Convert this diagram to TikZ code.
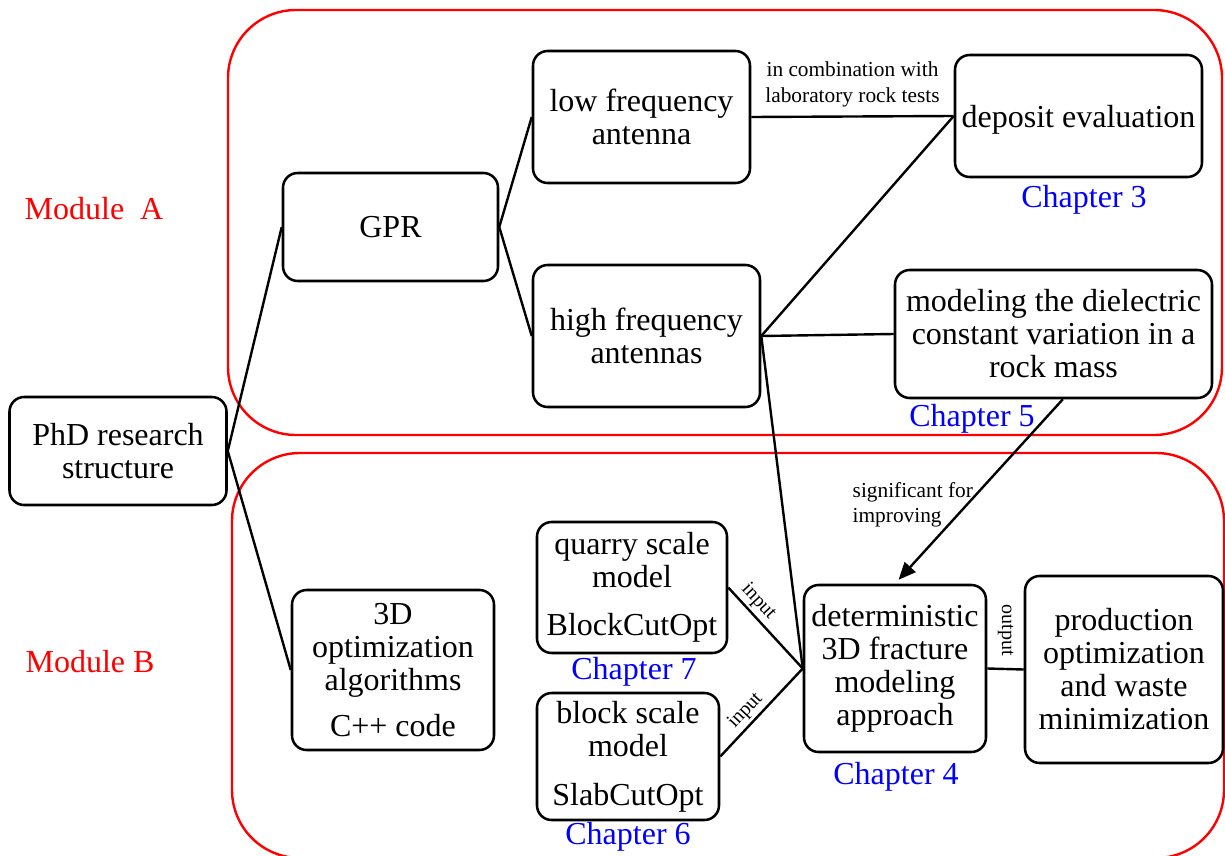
\documentclass[tikz,border=0pt]{standalone}
\usepackage{fontspec}
\setmainfont{Liberation Serif}
\usetikzlibrary{arrows.meta}
\begin{document}
\begin{tikzpicture}[x=0.75pt,y=-0.75pt,
  box/.style={draw, line width=1.9pt, rounded corners=11pt, align=center, inner sep=0pt,
     font=\fontsize{24}{24.75}\selectfont},
  module/.style={draw=red, line width=1.8pt, rounded corners=51pt},
  modlabel/.style={text=red, font=\fontsize{24}{28}\selectfont},
  chap/.style={text=blue, font=\fontsize{24}{28}\selectfont},
  small/.style={font=\fontsize{16}{19}\selectfont},
  conn/.style={line width=1.8pt},
  lbl/.style={font=\fontsize{15}{18}\selectfont, inner sep=2pt}
]
\useasboundingbox (0,0) rectangle (1225,856);
\clip (0,0) rectangle (1225,856);

% modules
\draw[module] (228,10) rectangle (1222,435);
\draw[module] (232,453) rectangle (1224,858);
\node[modlabel] (ma) at (94,209) {Module\ \ A};
\node[modlabel] (mb) at (90,662) {Module B};

% boxes
\node[box, minimum width=162.75pt, minimum height=81pt] (phd) at (118,451) {PhD research\\structure};
\node[box, minimum width=161.25pt, minimum height=81pt] (gpr) at (390.5,227) {GPR};
\node[box, minimum width=162.75pt, minimum height=99pt] (low) at (641.5,117) {low frequency\\antenna};
\node[box, minimum width=170.25pt, minimum height=106.5pt] (high) at (646.5,336) {high frequency\\antennas};
\node[box, minimum width=185.25pt, minimum height=91.5pt] (dep) at (1078.5,116) {\raisebox{-3pt}[\height][\depth]{deposit evaluation}};
\node[box, minimum width=237.75pt, minimum height=96pt] (mod) at (1053.5,334) {modeling the dielectric\\constant variation in a\\rock mass};
\node[box, minimum width=151.5pt, minimum height=120pt] (opt) at (393,670) {3D\\optimization\\algorithms\\[10pt]C++ code};
\node[box, minimum width=142.5pt, minimum height=98.25pt] (quarry) at (632,587.5) {quarry scale\\model\\[11pt]BlockCutOpt};
\node[box, minimum width=136.5pt, minimum height=95.25pt] (block) at (628,756.5) {block scale\\model\\[12pt]SlabCutOpt};
\node[box, minimum width=136.5pt, minimum height=125.25pt] (det) at (895,668.5) {deterministic\\3D fracture\\modeling\\approach};
\node[box, minimum width=148.5pt, minimum height=140.25pt] (prod) at (1124,669.5) {production\\optimization\\and waste\\minimization};

% chapter labels
\node[chap] (c3) at (1084,200) {Chapter 3};
\node[chap] (c5) at (972,419) {Chapter 5};
\node[chap] (c7) at (634,672) {Chapter 7};
\node[chap] (c6) at (628,837) {Chapter 6};
\node[chap] (c4) at (896,777) {Chapter 4};

% connectors
\draw[conn] (phd.east) -- (gpr.west);
\draw[conn] (phd.east) -- (opt.west);
\draw[conn] (gpr.east) -- (low.west);
\draw[conn] (gpr.east) -- (high.west);
\draw[conn] (low.east) -- node[small, above, align=center, yshift=3pt] {in combination with\\laboratory rock tests} (dep.west);
\draw[conn] (high.east) -- (dep.west);
\draw[conn] (high.east) -- (mod.west);
\draw[conn] (high.east) -- (det.west);
\draw[conn] (quarry.east) -- node[lbl, pos=0.28, above, sloped] {input} (det.west);
\draw[conn] (block.east) -- node[lbl, pos=0.42, above, sloped] {input} (det.west);
\draw[conn] (det.east) -- node[lbl, midway, anchor=east, rotate=-90, inner sep=9pt] {output} (prod.west);
\draw[conn, -{Triangle[length=13pt, width=11pt]}, shorten >=4pt] ([xshift=7pt]mod.south) -- (det.north);
\node[small, align=left, anchor=west] (sig) at (848,505) {significant for\\improving};
\end{tikzpicture}
\end{document}
